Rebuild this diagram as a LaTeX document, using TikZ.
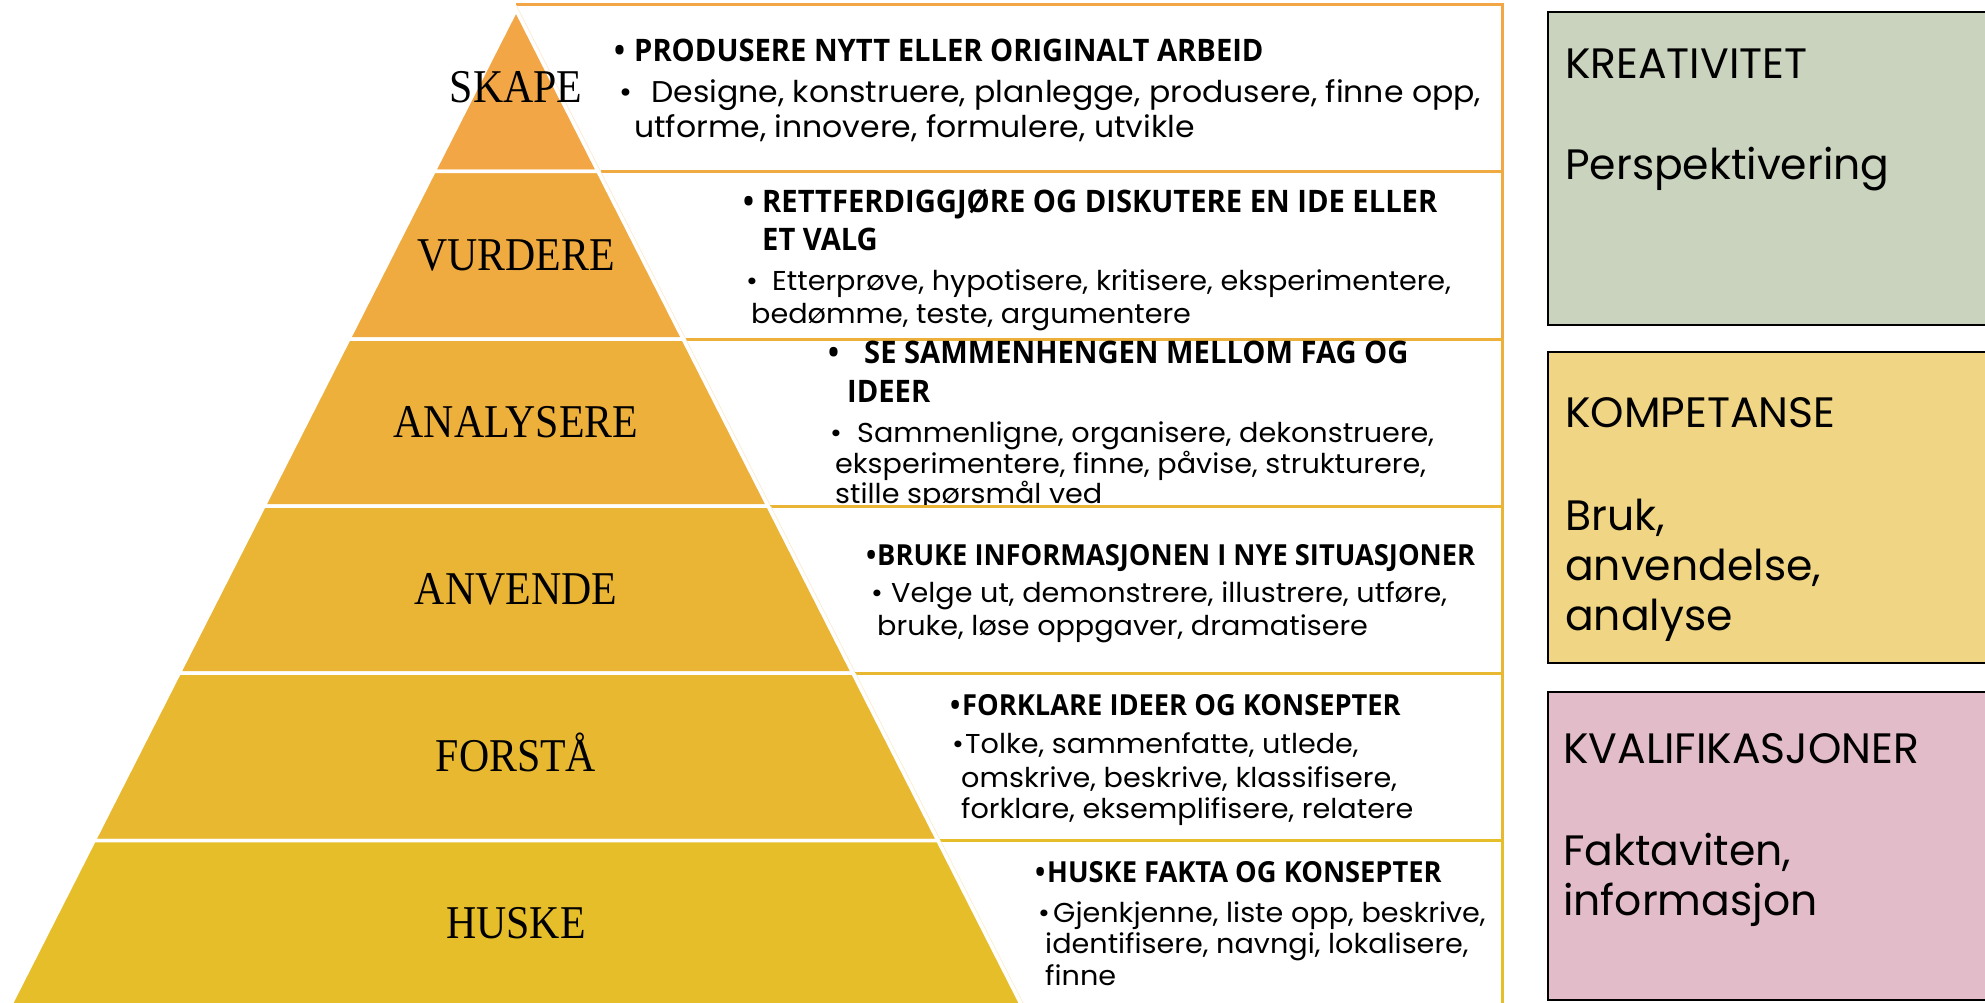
\documentclass[tikz,border=0pt]{standalone}
\usepackage{fontspec}
\setmainfont{Poppins}
\newfontfamily\bodyfont{Poppins}[FakeStretch=1.05]
\newfontfamily\hdfont{Open Sans}[FakeStretch=0.94]
\newfontfamily\levfont{Liberation Serif}
\usepackage{graphicx}
\definecolor{lv1}{RGB}{242,166,70}
\definecolor{lv6}{RGB}{229,190,42}
\colorlet{lv2}{lv6!20!lv1}
\colorlet{lv3}{lv6!40!lv1}
\colorlet{lv4}{lv6!60!lv1}
\colorlet{lv5}{lv6!80!lv1}
\definecolor{boxA}{RGB}{202,211,190}
\definecolor{boxB}{RGB}{240,214,132}
\definecolor{boxC}{RGB}{226,188,201}
\def\ax{516}\def\ay{10}\def\kk{0.508}
\newcommand\rowbox[3]{%
  \pgfmathsetmacro\lt{\ax+\kk*(#1-\ay)+2.5}%
  \pgfmathsetmacro\lb{\ax+\kk*(#2-\ay)+2.5}%
  \fill[white] (\lt,#1) -- (1502,#1) -- (1502,#2) -- (\lb,#2) -- cycle;
  \draw[#3, line width=3pt] (\lt,#1) -- (1502,#1) -- (1502,#2) -- (\lb,#2);
  \draw[#3!25, line width=0.8pt] (\lt,#1) -- (\lb,#2);
}
\tikzset{
  txt/.style={anchor=base west, inner sep=0pt},
  hA/.style={txt, font=\hdfont\bfseries\fontsize{31}{31}\selectfont},
  hD/.style={txt, font=\hdfont\bfseries\fontsize{29}{29}\selectfont},
  bA/.style={txt, font=\bodyfont\fontsize{30}{30}\selectfont},
  bD/.style={txt, font=\bodyfont\fontsize{27.3}{27.3}\selectfont},
  side/.style={txt, font=\fontsize{42.5}{42.5}\selectfont},
  levlab/.style={inner sep=0pt, anchor=base, font=\levfont\fontsize{47}{47}\selectfont},
  sbox/.style={draw=black, line width=2.5pt},
}
\begin{document}
\begin{tikzpicture}[x=1pt,y=-1pt]
\useasboundingbox (0,0) rectangle (1985,1003);
\clip (0,0) rectangle (1985,1003);
% row 1
\rowbox{5}{171.5}{lv1}
\node[hA] (r1hb) at (614,62) {•};
\node[hA] (r1h) at (634,62) {PRODUSERE NYTT ELLER ORIGINALT ARBEID};
\node[bA] (r1bb) at (619,103) {•};
\node[bA] (r1b) at (651,103) {Designe, konstruere, planlegge, produsere, finne opp,};
\node[bA] (r1c) at (634,138) {utforme, innovere, formulere, utvikle};
% row 2
\rowbox{171.5}{339}{lv2}
\node[hA] (r2hb) at (743,212) {•};
\node[hA] (r2h) at (762,212) {RETTFERDIGGJØRE OG DISKUTERE EN IDE ELLER};
\node[hA] (r2h2) at (762,250) {ET VALG};
\node[bD] (r2bb) at (746,290) {•};
\node[bD] (r2b) at (772,290) {Etterprøve, hypotisere, kritisere, eksperimentere,};
\node[bD] (r2c) at (751,323) {bedømme, teste, argumentere};
% row 3
\rowbox{339}{506}{lv3}
\node[hA] (r3hb) at (828,363) {•};
\node[hA] (r3h) at (864,363) {SE SAMMENHENGEN MELLOM FAG OG};
\node[hA] (r3h2) at (847,402) {IDEER};
\node[bD] (r3bb) at (830,442) {•};
\node[bD] (r3b) at (857,442) {Sammenligne, organisere, dekonstruere,};
\node[bD] (r3c) at (835,473) {eksperimentere, finne, påvise, strukturere,};
\node[bD] (r3d) at (835,503) {stille spørsmål ved};
% row 4
\rowbox{506}{673}{lv4}
\node[hD] (r4hb) at (866,565) {•};
\node[hD] (r4h) at (877,565) {BRUKE INFORMASJONEN I NYE SITUASJONER};
\node[bD] (r4bb) at (871,602) {•};
\node[bD] (r4b) at (891,602) {Velge ut, demonstrere, illustrere, utføre,};
\node[bD] (r4c) at (877,635) {bruke, løse oppgaver, dramatisere};
% row 5
\rowbox{673}{840.5}{lv5}
\node[hD] (r5hb) at (950,715) {•};
\node[hD] (r5h) at (962,715) {FORKLARE IDEER OG KONSEPTER};
\node[bD] (r5bb) at (952,753) {•};
\node[bD] (r5b) at (965,753) {Tolke, sammenfatte, utlede,};
\node[bD] (r5c) at (961,787) {omskrive, beskrive, klassifisere,};
\node[bD] (r5d) at (961,818) {forklare, eksemplifisere, relatere};
% row 6
\rowbox{840.5}{1012}{lv6}
\node[hD] (r6hb) at (1035,882) {•};
\node[hD] (r6h) at (1047,882) {HUSKE FAKTA OG KONSEPTER};
\node[bD] (r6bb) at (1038,922) {•};
\node[bD] (r6b) at (1053,922) {Gjenkjenne, liste opp, beskrive,};
\node[bD] (r6c) at (1045,953) {identifisere, navngi, lokalisere,};
\node[bD] (r6d) at (1045,985) {finne};
% pyramid
\foreach \t/\b/\c/\lab/\bl [count=\i] in {10/171.5/lv1/SKAPE/103,171.5/339/lv2/VURDERE/270,339/506/lv3/ANALYSERE/437,506/673/lv4/ANVENDE/604,673/840.5/lv5/FORSTÅ/771,840.5/1012/lv6/HUSKE/938}{
  \pgfmathsetmacro\tlx{\ax-\kk*(\t-\ay)}
  \pgfmathsetmacro\trx{\ax+\kk*(\t-\ay)}
  \pgfmathsetmacro\blx{\ax-\kk*(\b-\ay)}
  \pgfmathsetmacro\brx{\ax+\kk*(\b-\ay)}
  \filldraw[fill=\c, draw=white, line width=3.5pt] (\tlx,\t) -- (\trx,\t) -- (\brx,\b) -- (\blx,\b) -- cycle;
  \node[levlab] (lev\i) at (\ax,\bl) {\scalebox{0.89}[1]{\lab}};
}
% side boxes
\draw[sbox, fill=boxA] (1548,12) rectangle (2000,325);
\draw[sbox, fill=boxB] (1548,352) rectangle (2000,663);
\draw[sbox, fill=boxC] (1548,692) rectangle (2000,1000);
\node[side] (s1a) at (1565,79) {KREATIVITET};
\node[side] (s1b) at (1565,180) {Perspektivering};
\node[side] (s2a) at (1565,427) {KOMPETANSE};
\node[side] (s2b) at (1565,530) {Bruk,};
\node[side] (s2c) at (1565,580) {anvendelse,};
\node[side] (s2d) at (1565,630) {analyse};
\node[side] (s3a) at (1563,763) {KVALIFIKASJONER};
\node[side] (s3b) at (1563,865) {Faktaviten,};
\node[side] (s3c) at (1563,915) {informasjon};
\end{tikzpicture}
\end{document}
